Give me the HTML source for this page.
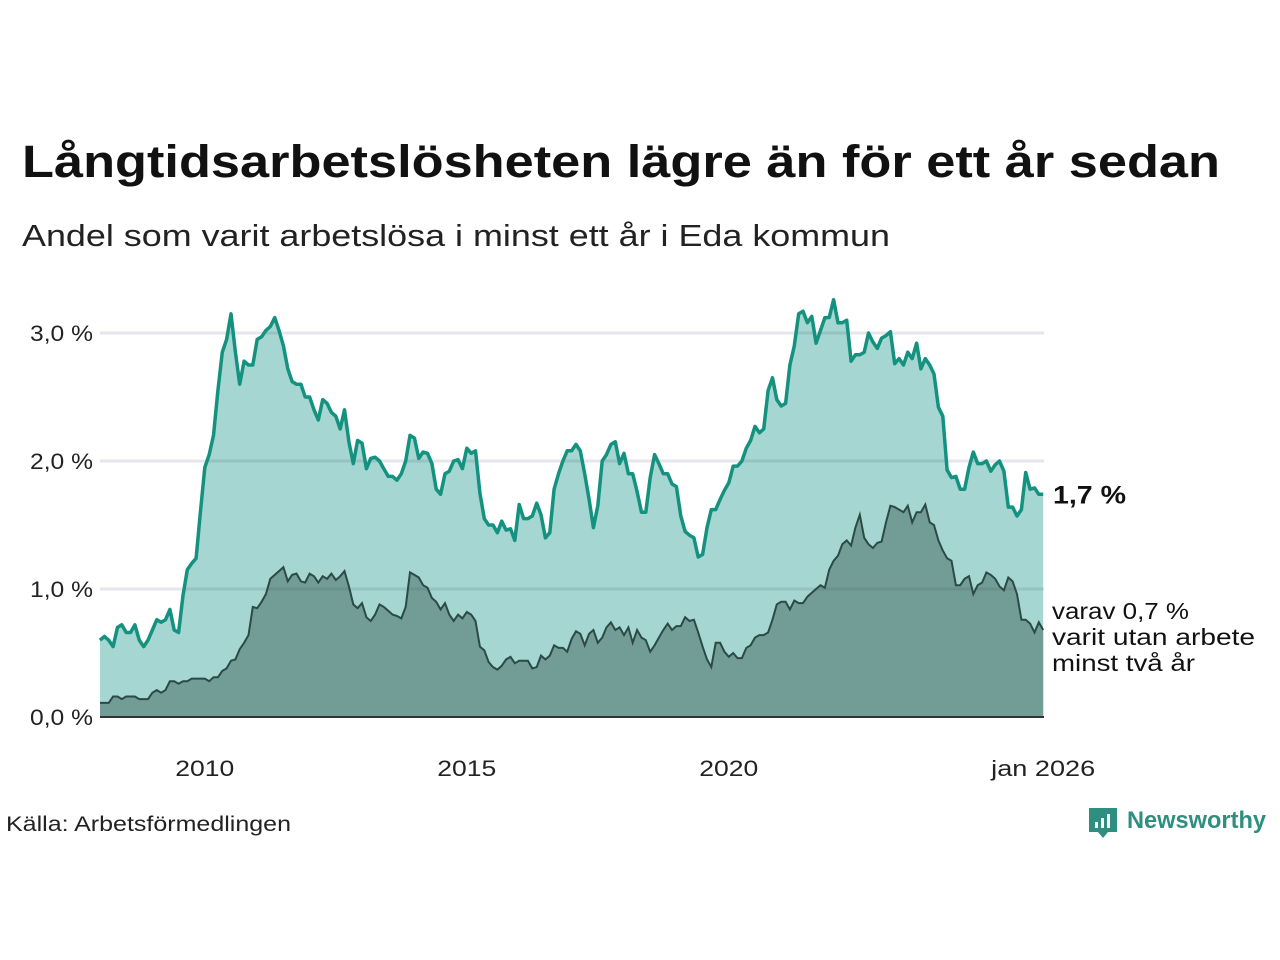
<!DOCTYPE html>
<html><head><meta charset="utf-8"><style>
body{margin:0;background:#fff;width:1280px;height:960px;overflow:hidden;font-family:"Liberation Sans",sans-serif}
svg{display:block}
</style></head><body>
<svg width="1280" height="960">
<text x="22" y="177" font-size="45" font-weight="bold" fill="#111" textLength="1198" lengthAdjust="spacingAndGlyphs">Långtidsarbetslösheten lägre än för ett år sedan</text>
<text x="22" y="246" font-size="31" fill="#222" textLength="868" lengthAdjust="spacingAndGlyphs">Andel som varit arbetslösa i minst ett år i Eda kommun</text>
<g id="plot"></g>
<text x="6" y="831" font-size="21" fill="#222" textLength="285" lengthAdjust="spacingAndGlyphs">Källa: Arbetsförmedlingen</text>
<g>
<path d="M1089 808 h28 v24 h-9 l-5 6 l-5 -6 h-9 z" fill="#2e8f80"/>
<rect x="1095" y="822" width="3" height="6" fill="#fff"/><rect x="1101" y="818" width="3" height="10" fill="#fff"/><rect x="1107" y="814" width="3" height="14" fill="#fff"/>
<text x="1127" y="828" font-size="24" font-weight="bold" fill="#2e8f80" textLength="139" lengthAdjust="spacingAndGlyphs">Newsworthy</text>
</g>
</svg>
<script>
const startYear = 2008;
const xTickYears = [2010, 2015, 2020];
const xTickLabels = ["2010", "2015", "2020", "jan 2026"];
const yTicks = [0, 1, 2, 3];
const yTickLabels = ["0,0 %", "1,0 %", "2,0 %", "3,0 %"];
const totalSeries = [
0.60,0.63,0.60,0.55,0.70,0.72,0.66,0.66,0.72,0.60,0.55,0.60,
0.68,0.76,0.74,0.76,0.84,0.68,0.66,0.95,1.15,1.20,1.24,1.60,
1.95,2.05,2.20,2.55,2.85,2.95,3.15,2.85,2.60,2.78,2.75,2.75,
2.95,2.97,3.02,3.05,3.12,3.02,2.90,2.72,2.62,2.60,2.60,2.50,
2.50,2.40,2.32,2.48,2.45,2.38,2.35,2.25,2.40,2.15,1.98,2.16,
2.14,1.94,2.02,2.03,2.00,1.94,1.88,1.88,1.85,1.90,2.00,2.20,
2.18,2.02,2.07,2.06,1.98,1.78,1.74,1.90,1.92,2.00,2.01,1.94,
2.10,2.06,2.08,1.75,1.55,1.50,1.50,1.44,1.53,1.46,1.47,1.38,
1.66,1.55,1.55,1.57,1.67,1.58,1.40,1.44,1.78,1.90,2.00,2.08,
2.08,2.13,2.08,1.90,1.70,1.48,1.65,2.00,2.05,2.13,2.15,1.98,
2.06,1.90,1.90,1.76,1.60,1.60,1.87,2.05,1.98,1.90,1.90,1.82,
1.80,1.57,1.45,1.42,1.40,1.25,1.27,1.48,1.62,1.62,1.70,1.77,
1.83,1.96,1.96,2.00,2.10,2.16,2.27,2.22,2.25,2.55,2.65,2.48,
2.43,2.45,2.75,2.90,3.15,3.17,3.08,3.13,2.92,3.02,3.12,3.12,
3.26,3.08,3.08,3.10,2.78,2.83,2.83,2.85,3.00,2.93,2.88,2.96,
2.98,3.01,2.76,2.80,2.75,2.85,2.80,2.92,2.72,2.80,2.75,2.68,
2.42,2.35,1.93,1.87,1.88,1.78,1.78,1.95,2.07,1.98,1.98,2.00,
1.92,1.97,2.00,1.92,1.64,1.64,1.57,1.62,1.91,1.78,1.79,1.74,
1.74];
const twoYearSeries = [
0.11,0.11,0.11,0.16,0.16,0.14,0.16,0.16,0.16,0.14,0.14,0.14,
0.19,0.21,0.19,0.21,0.28,0.28,0.26,0.28,0.28,0.30,0.30,0.30,
0.30,0.28,0.31,0.31,0.36,0.38,0.44,0.45,0.53,0.58,0.64,0.86,
0.85,0.90,0.96,1.08,1.11,1.14,1.17,1.06,1.11,1.12,1.06,1.05,
1.12,1.10,1.05,1.10,1.08,1.12,1.07,1.10,1.14,1.02,0.88,0.85,
0.89,0.78,0.75,0.80,0.88,0.86,0.83,0.80,0.79,0.77,0.86,1.13,
1.11,1.09,1.03,1.01,0.93,0.90,0.84,0.89,0.80,0.75,0.80,0.77,
0.82,0.80,0.75,0.55,0.52,0.43,0.39,0.37,0.40,0.45,0.47,0.42,
0.44,0.44,0.44,0.38,0.39,0.48,0.45,0.48,0.56,0.54,0.54,0.51,
0.61,0.67,0.65,0.56,0.65,0.68,0.58,0.62,0.70,0.74,0.68,0.70,
0.64,0.70,0.58,0.68,0.62,0.60,0.51,0.56,0.62,0.68,0.73,0.68,
0.71,0.71,0.78,0.75,0.76,0.66,0.55,0.45,0.39,0.58,0.58,0.51,
0.47,0.50,0.46,0.46,0.54,0.56,0.62,0.64,0.64,0.66,0.76,0.88,
0.90,0.90,0.84,0.91,0.89,0.89,0.94,0.97,1.00,1.03,1.01,1.15,
1.22,1.26,1.35,1.38,1.34,1.48,1.58,1.40,1.35,1.32,1.36,1.37,
1.52,1.65,1.64,1.62,1.60,1.65,1.52,1.60,1.60,1.66,1.52,1.50,
1.38,1.30,1.24,1.22,1.03,1.03,1.08,1.10,0.96,1.03,1.05,1.13,
1.11,1.08,1.02,0.99,1.09,1.06,0.96,0.76,0.76,0.73,0.66,0.74,
0.68];
const NS="http://www.w3.org/2000/svg";
const X0=100, PX_PER_YEAR=52.4, Y0=717, PX_PER_UNIT=128, X1=1044;
const xMonth=i=>X0+i*PX_PER_YEAR/12;
const xYear=yr=>X0+(yr-startYear)*PX_PER_YEAR;
const yv=v=>Y0-v*PX_PER_UNIT;
const g=document.getElementById('plot');
function mk(tag,attrs){const e=document.createElementNS(NS,tag);for(const k in attrs)e.setAttribute(k,attrs[k]);g.appendChild(e);return e;}
function linePts(arr){return arr.map((v,i)=>xMonth(i).toFixed(1)+','+yv(v).toFixed(1)).join(' ');}
function areaPts(arr){return xMonth(0)+','+Y0+' '+linePts(arr)+' '+xMonth(arr.length-1)+','+Y0;}
const a1=mk('polygon',{points:areaPts(totalSeries),fill:'#a5d6d1'});


const a2=mk('polygon',{points:areaPts(twoYearSeries),fill:'#729d96'});


yTicks.forEach((t,i)=>{
  if(t>0){const gl=mk('line',{x1:X0,x2:X1,y1:yv(t),y2:yv(t),stroke:'rgba(60,60,110,0.13)','stroke-width':3});
  
  }
  const tl=mk('text',{x:93,y:yv(t)+8,'text-anchor':'end','font-size':22,fill:'#222',textLength:63,lengthAdjust:'spacingAndGlyphs'});
  tl.textContent=yTickLabels[i];
  
  
});
const l2=mk('polyline',{points:linePts(twoYearSeries),fill:'none',stroke:'#2b4a45','stroke-width':2});


const l1=mk('polyline',{points:linePts(totalSeries),fill:'none',stroke:'#14927f','stroke-width':3.5,'stroke-linejoin':'round'});


const ax=mk('line',{x1:X0,x2:X1,y1:Y0,y2:Y0,stroke:'#333','stroke-width':2});


const xt=xTickYears.map(xYear).concat([xMonth(totalSeries.length-1)]);
xt.forEach((x,i)=>{
  const w=i<3?59:104;
  const t=mk('text',{x:x,y:776,'text-anchor':'middle','font-size':22,fill:'#222',textLength:w,lengthAdjust:'spacingAndGlyphs'});
  t.textContent=xTickLabels[i];
  
  
});
const last=totalSeries[totalSeries.length-1];
const la=mk('text',{x:1053,y:yv(last)+9,'font-size':25,'font-weight':'bold',fill:'#111',textLength:73,lengthAdjust:'spacingAndGlyphs'});
la.textContent=last.toFixed(1).replace('.',',')+' %';


const lastB=twoYearSeries[twoYearSeries.length-1];
const lines=['varav '+lastB.toFixed(1).replace('.',',')+' %','varit utan arbete','minst två år'];
const lw=[137,203,143];
lines.forEach((s,i)=>{
  const t=mk('text',{x:1052,y:619+i*26,'font-size':23,fill:'#111',textLength:lw[i],lengthAdjust:'spacingAndGlyphs'});
  t.textContent=s;
  
  
});
</script>
</body></html>
